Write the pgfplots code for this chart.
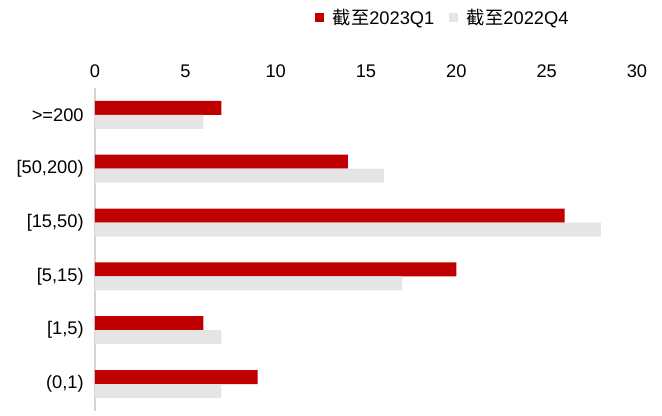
\documentclass[border=0pt]{standalone}
\usepackage{fontspec}
\setmainfont{Liberation Sans}
\newfontfamily\cjk{Noto Sans CJK SC}
\usepackage{pgfplots}
\pgfplotsset{compat=1.18}
\definecolor{barred}{HTML}{C00000}
\definecolor{bargray}{HTML}{E5E5E5}
\definecolor{axisgray}{HTML}{D4D4D4}
\newcommand\lab{\fontsize{13.7}{16}\selectfont}

\begin{document}
\begin{tikzpicture}
\useasboundingbox (-71.25pt,-3.75pt) rectangle (425.25pt,308.25pt);
\begin{axis}[
  at={(0,0)}, anchor=south west,
  scale only axis, width=406.5pt, height=242.25pt,
  xbar, bar width=10.5pt,
  xmin=0, xmax=30, ymin=-0.5, ymax=5.5,
  xtick={0,5,...,30}, ytick={0,...,5},
  yticklabels={{(0,1)},{[1,5)},{[5,15)},{[15,50)},{[50,200)},{>=200}},
  axis x line*=top, axis y line*=left,
  x axis line style={draw=none},
  y axis line style={-, draw=axisgray, line width=1.5pt},
  major tick length=0pt,
  tick label style={font=\lab},
  /pgf/number format/assume math mode=true,
  yticklabel style={xshift=-5pt},
  xticklabel style={yshift=4pt},
  legend style={draw=none, font=\lab, at={(0.642,1.217)}, anchor=center,
    legend columns=-1, /tikz/every even column/.append style={column sep=9pt}},
  legend image code/.code={\fill[#1] (0pt,-3.4pt) rectangle (6.8pt,3.4pt);
    \path (11.5pt,0pt);},
]
% bottom to top: (0,1) ... >=200
\addplot[fill=barred, draw=none, bar shift=5.25pt] coordinates {(9,0) (6,1) (20,2) (26,3) (14,4) (7,5)};
\addplot[fill=bargray, draw=none, bar shift=-5.25pt] coordinates {(7,0) (7,1) (17,2) (28,3) (16,4) (6,5)};
\legend{{\cjk 截至}2023Q1, {\cjk 截至}2022Q4}
\end{axis}
\end{tikzpicture}
\end{document}
